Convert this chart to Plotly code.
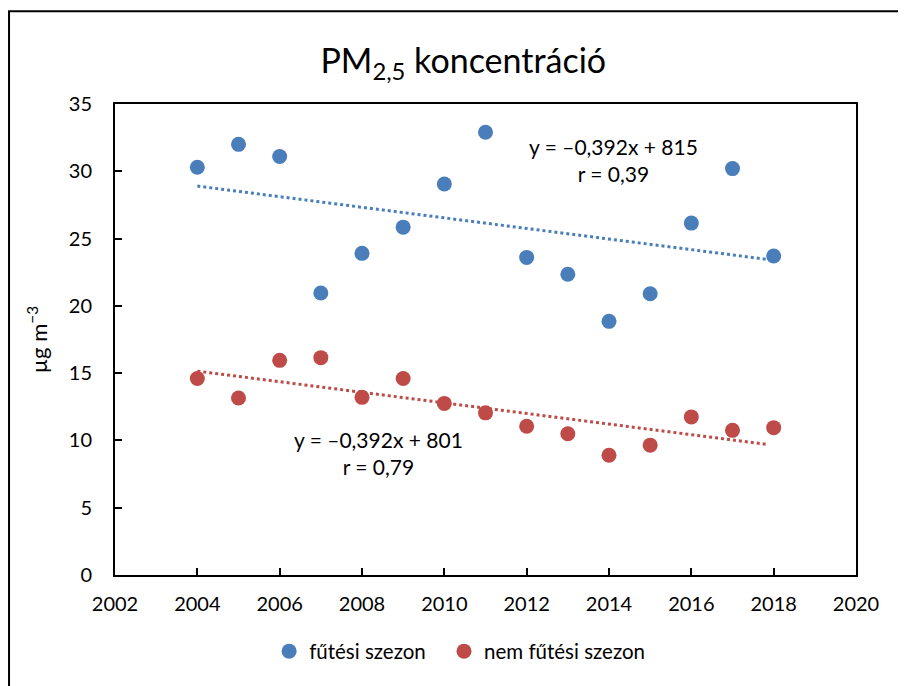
import plotly.graph_objects as go

years = [2004, 2005, 2006, 2007, 2008, 2009, 2010, 2011, 2012, 2013, 2014, 2015, 2016, 2017, 2018]
heating = [30.3, 32.0, 31.1, 20.95, 23.9, 25.85, 29.05, 32.9, 23.6, 22.35, 18.85, 20.9, 26.15, 30.2, 23.7]
non_heating = [14.6, 13.15, 15.95, 16.15, 13.2, 14.6, 12.75, 12.05, 11.05, 10.5, 8.9, 9.65, 11.75, 10.75, 10.95]
trend_x = [2004, 2017.85]
trend_heating = [28.9, 23.45]
trend_non_heating = [15.15, 9.7]
x_ticks = [2002, 2004, 2006, 2008, 2010, 2012, 2014, 2016, 2018, 2020]
y_ticks = [0, 5, 10, 15, 20, 25, 30, 35]

BLUE = "#4A7EBB"
RED = "#BE4B48"
FONT = "Lato, 'Open Sans', sans-serif"

fig = go.Figure()
fig.add_trace(go.Scatter(x=trend_x, y=trend_heating, mode="lines",
                         line=dict(color=BLUE, width=3, dash="dot"), showlegend=False, hoverinfo="skip"))
fig.add_trace(go.Scatter(x=trend_x, y=trend_non_heating, mode="lines",
                         line=dict(color=RED, width=3, dash="dot"), showlegend=False, hoverinfo="skip"))
fig.add_trace(go.Scatter(x=years, y=heating, mode="markers", name="fűtési szezon",
                         marker=dict(color=BLUE, size=15), legend="legend"))
fig.add_trace(go.Scatter(x=years, y=non_heating, mode="markers", name="nem fűtési szezon",
                         marker=dict(color=RED, size=15), legend="legend2"))

fig.add_annotation(x=2014.1, y=30.85, xref="x", yref="y",
                   text="y = –0,392x + 815<br>r = 0,39", showarrow=False,
                   font=dict(size=21, color="black", family=FONT), align="center")
fig.add_annotation(x=2008.4, y=9.1, xref="x", yref="y",
                   text="y = –0,392x + 801<br>r = 0,79", showarrow=False,
                   font=dict(size=21, color="black", family=FONT), align="center")

fig.add_shape(type="rect", xref="paper", yref="paper", x0=-0.143, y0=-0.35, x1=1.2, y1=1.197,
              line=dict(color="black", width=2), fillcolor="rgba(0,0,0,0)", layer="below")

legend_common = dict(orientation="h", xanchor="left", y=-0.162, yanchor="middle",
                     font=dict(size=20.5, family=FONT), itemwidth=30, bgcolor="rgba(0,0,0,0)")

fig.update_layout(
    width=898, height=678,
    margin=dict(l=107, r=50, t=96, b=111, autoexpand=False),
    paper_bgcolor="white", plot_bgcolor="white",
    font=dict(family=FONT, size=20, color="black"),
    title=dict(text="PM<sub>2,5</sub> koncentráció", x=0.507, xanchor="center",
               y=0.922, yanchor="middle", font=dict(size=34, family=FONT, color="black")),
    showlegend=True,
    legend=dict(x=0.208, **legend_common),
    legend2=dict(x=0.444, **legend_common),
    xaxis=dict(range=[2002, 2020], tickvals=x_ticks, ticks="inside", ticklen=7, tickwidth=2,
               tickcolor="black", showline=True, linecolor="black", linewidth=2, mirror=True,
               showgrid=False, zeroline=False, tickfont=dict(size=20), ticklabelstandoff=10,
               automargin=False),
    yaxis=dict(range=[0, 35], tickvals=y_ticks, ticks="inside", ticklen=7, tickwidth=2,
               tickcolor="black", showline=True, linecolor="black", linewidth=2, mirror=True,
               showgrid=False, zeroline=False, tickfont=dict(size=20), ticklabelstandoff=17,
               automargin=False,
               title=dict(text="µg m<sup>−3</sup>", font=dict(size=22), standoff=15)),
)

fig.write_html("out.html")
